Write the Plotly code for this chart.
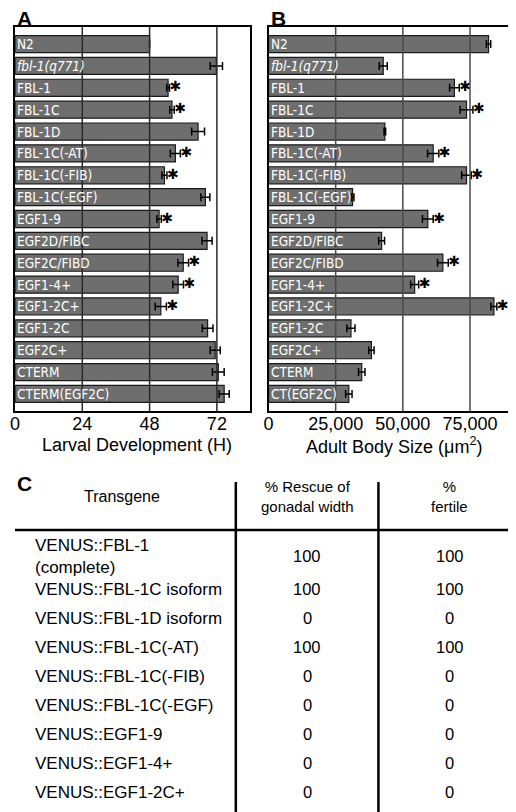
import plotly.graph_objects as go

# ---------------- data ----------------
labels_a = ["N2", "<i>fbl-1(q771)</i>", "FBL-1", "FBL-1C", "FBL-1D", "FBL-1C(-AT)",
            "FBL-1C(-FIB)", "FBL-1C(-EGF)", "EGF1-9", "EGF2D/FIBC", "EGF2C/FIBD",
            "EGF1-4+", "EGF1-2C+", "EGF1-2C", "EGF2C+", "CTERM", "CTERM(EGF2C)"]
labels_b = ["N2", "<i>fbl-1(q771)</i>", "FBL-1", "FBL-1C", "FBL-1D", "FBL-1C(-AT)",
            "FBL-1C(-FIB)", "FBL-1C(-EGF)", "EGF1-9", "EGF2D/FIBC", "EGF2C/FIBD",
            "EGF1-4+", "EGF1-2C+", "EGF1-2C", "EGF2C+", "CTERM", "CT(EGF2C)"]
larval = [48, 71.8, 54.6, 56.0, 65.3, 57.2, 53.3, 67.9, 51.4, 68.5, 60.0, 58.2, 52.0,
          68.7, 71.4, 72.5, 74.6]
larval_err = [0, 2.2, 0.5, 0.8, 2.3, 1.8, 0.9, 1.6, 0.8, 1.8, 1.9, 1.9, 2.0, 1.9, 1.8,
              2.1, 1.8]
body_size = [81900, 42700, 69200, 73700, 43300, 61300, 73700, 31300, 59300, 42100,
             64900, 54400, 83900, 30700, 38300, 34700, 29900]
body_err = [800, 1500, 1800, 2400, 300, 2100, 1800, 500, 2000, 1100, 2000, 1500, 1100,
            1500, 1000, 1200, 1200]
signif_a = [0, 0, 1, 1, 0, 1, 1, 0, 1, 0, 1, 1, 1, 0, 0, 0, 0]
signif_b = [0, 0, 1, 1, 0, 1, 1, 0, 1, 0, 1, 1, 1, 0, 0, 0, 0]
ticks_a = [0, 24, 48, 72]
ticks_b = [0, 25000, 50000, 75000]

table_header = ["Transgene", "% Rescue of<br>gonadal width", "%<br>fertile"]
transgenes = ["VENUS::FBL-1<br>(complete)", "VENUS::FBL-1C isoform", "VENUS::FBL-1D isoform",
              "VENUS::FBL-1C(-AT)", "VENUS::FBL-1C(-FIB)", "VENUS::FBL-1C(-EGF)",
              "VENUS::EGF1-9", "VENUS::EGF1-4+", "VENUS::EGF1-2C+"]
rescue_width = [100, 100, 0, 100, 0, 0, 0, 0, 0]
pct_fertile = [100, 100, 0, 100, 0, 0, 0, 0, 0]

# ---------------- figure ----------------
W, H = 516, 812
OX, OY = 8, 8          # page (body) margin offset of the browser
BAR_FILL = "#6e6e6e"
LABEL_FONT = "Liberation Sans Narrow, DejaVu Sans Condensed, Arial Narrow, sans-serif"
MAIN_FONT = "Liberation Sans, Arial, sans-serif"


def pxx(x):
    return (x - OX) / W


def pxy(y):
    return 1 - (y - OY) / H


fig = go.Figure()
idx = list(range(len(labels_a)))

for (vals, errs, sig, xa, ya) in [(larval, larval_err, signif_a, "x", "y"),
                                  (body_size, body_err, signif_b, "x2", "y2")]:
    fig.add_trace(go.Bar(
        x=vals, y=idx, orientation="h", width=0.78,
        marker=dict(color=BAR_FILL, line=dict(color="#1a1a1a", width=1.2)),
        error_x=dict(type="data", array=errs, color="black", thickness=1.5, width=4),
        xaxis=xa, yaxis=ya, showlegend=False, hoverinfo="skip"))
    sx = [v + e for v, e, s in zip(vals, errs, sig) if s]
    sy = [i for i, s in zip(idx, sig) if s]
    fig.add_trace(go.Scatter(
        x=sx, y=sy, mode="text", text=["✱"] * len(sx), textposition="middle right",
        textfont=dict(size=14, color="black", family="DejaVu Sans"),
        xaxis=xa, yaxis=ya, showlegend=False, hoverinfo="skip"))

annotations = []
for labels, xr, yr in [(labels_a, "x", "y"), (labels_b, "x2", "y2")]:
    for i, lab in enumerate(labels):
        annotations.append(dict(x=0, y=i, xref=xr, yref=yr, text=lab, showarrow=False,
                                xanchor="left", yanchor="middle", xshift=0,
                                font=dict(family=LABEL_FONT, size=13.5, color="white")))

shapes = []
for t in ticks_a[1:]:
    shapes.append(dict(type="line", xref="x", yref="y domain", x0=t, x1=t, y0=0, y1=1,
                       line=dict(color="#2a2a2a", width=1.5), layer="above"))
for t in ticks_b[1:]:
    shapes.append(dict(type="line", xref="x2", yref="y2 domain", x0=t, x1=t, y0=0, y1=1,
                       line=dict(color="#4a4a4a", width=1.5), layer="above"))

# axis titles
for text, cx in [("Larval Development (H)", 133), ("Adult Body Size (\u03bcm<sup>2</sup>)", 393)]:
    annotations.append(dict(x=pxx(cx), y=pxy(445), xref="paper", yref="paper", text=text,
                            showarrow=False, xanchor="center", yanchor="middle",
                            font=dict(family=MAIN_FONT, size=18, color="black")))

# panel letters
for letter, x, y in [("A", 10, 18), ("B", 267, 18), ("C", 10, 484)]:
    annotations.append(dict(x=pxx(x), y=pxy(y), xref="paper", yref="paper",
                            text=f"<b>{letter}</b>",
                            showarrow=False, xanchor="left", yanchor="middle",
                            font=dict(family=MAIN_FONT, size=21, color="black")))

# ---------------- table C ----------------
col_x = [118, 305, 449]
header_y = 497
annotations.append(dict(x=pxx(col_x[0]), y=pxy(header_y), xref="paper", yref="paper",
                        text=table_header[0], showarrow=False, xanchor="center",
                        yanchor="middle",
                        font=dict(family=MAIN_FONT, size=16, color="black")))
for j in (1, 2):
    annotations.append(dict(x=pxx(col_x[j]), y=pxy(header_y), xref="paper", yref="paper",
                            text=table_header[j], showarrow=False, xanchor="center",
                            yanchor="middle", align="center",
                            font=dict(family=MAIN_FONT, size=15, color="black")))

row_y = [556, 589, 618, 647, 676, 705, 734, 763, 792]
for r, (tg, rw, pf) in enumerate(zip(transgenes, rescue_width, pct_fertile)):
    y = pxy(row_y[r])
    annotations.append(dict(x=pxx(28), y=y, xref="paper", yref="paper", text=tg,
                            showarrow=False, xanchor="left", yanchor="middle", align="left",
                            font=dict(family=MAIN_FONT, size=17, color="black")))
    for j, v in ((1, rw), (2, pf)):
        annotations.append(dict(x=pxx(col_x[j]), y=y, xref="paper", yref="paper",
                                text=str(v), showarrow=False, xanchor="center",
                                yanchor="middle",
                                font=dict(family=MAIN_FONT, size=16.5, color="black")))

shapes.append(dict(type="line", xref="paper", yref="paper", x0=pxx(10), x1=1,
                   y0=pxy(530), y1=pxy(530), line=dict(color="black", width=2.5)))
for xv in (233, 377):
    shapes.append(dict(type="line", xref="paper", yref="paper", x0=pxx(xv), x1=pxx(xv),
                       y0=pxy(482), y1=0, line=dict(color="black", width=2.5)))

line_common = dict(showgrid=False, zeroline=False, showline=True, linecolor="black",
                   linewidth=2, ticks="")
tickfont = dict(family=MAIN_FONT, size=18, color="black")
fig.update_layout(
    width=W, height=H, margin=dict(l=0, r=0, t=0, b=0),
    paper_bgcolor="white", plot_bgcolor="white", bargap=0.2,
    xaxis=dict(domain=[pxx(10), pxx(247)], range=[0, 83.7], tickvals=ticks_a,
               mirror=True, anchor="y", tickfont=tickfont, ticklabelstandoff=-5,
               **line_common),
    yaxis=dict(domain=[pxy(411), pxy(27)], range=[16.78, -0.78], showticklabels=False,
               mirror=True, anchor="x", **line_common),
    xaxis2=dict(domain=[pxx(266), 1], range=[0, 95100], tickvals=ticks_b,
                tickformat=",d", mirror=True, anchor="y2", tickfont=tickfont,
                ticklabelstandoff=-5, **line_common),
    yaxis2=dict(domain=[pxy(411), pxy(27)], range=[16.78, -0.78], showticklabels=False,
                mirror=False, anchor="x2", **line_common),
    annotations=annotations, shapes=shapes,
)

fig.write_html("out.html")
